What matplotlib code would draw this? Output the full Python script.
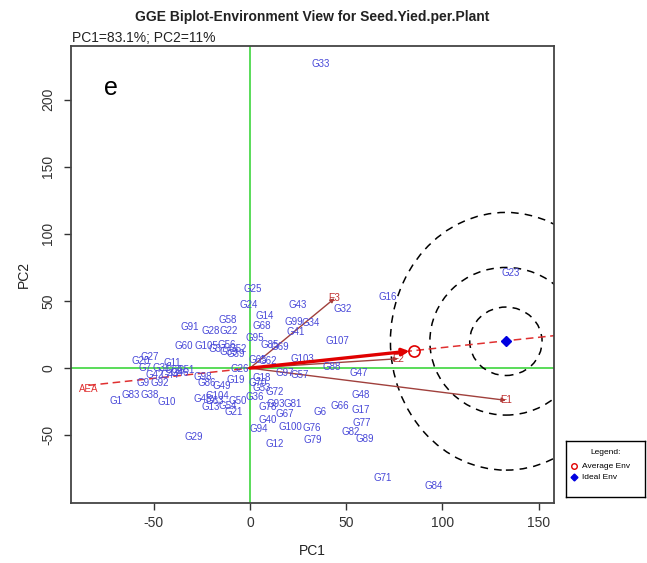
import matplotlib
matplotlib.use("Agg")
import matplotlib.pyplot as plt
from matplotlib.patches import Ellipse
import numpy as np

plt.rcParams['font.family'] = ['Liberation Sans', 'DejaVu Sans']
plt.rcParams['axes.unicode_minus'] = False

# Genotype scores (PC1, PC2)
geno_names = [
    "G33", "G25", "G24", "G43", "G16", "G23", "G32", "G14", "G99", "G34",
    "G58", "G68", "G91", "G28", "G22", "G41", "G107", "G60", "G105", "G56",
    "G52", "G59", "G39", "G37", "G85", "G69", "G95", "G103", "G65", "G62",
    "G88", "G47", "G26", "G97", "G57", "G19", "G18", "G70", "G53", "G72",
    "G36", "G98", "G86", "G49", "G104", "G45", "G63", "G13", "G50", "G54",
    "G21", "G78", "G93", "G81", "G67", "G40", "G94", "G100", "G76", "G12",
    "G79", "G6", "G66", "G17", "G48", "G77", "G82", "G89", "G71", "G84",
    "G29", "G10", "G1", "G83", "G38", "G9", "G92", "G27", "G20", "G11",
    "G7", "G31", "G64", "G51", "G42", "G44", "G46",
]
geno_pc1 = [
    37.0, 1.6, -0.5, 25.0, 71.4, 135.4, 48.4, 7.8, 22.9, 31.3,
    -11.5, 6.3, -31.3, -20.3, -10.9, 24.0, 45.3, -34.4, -22.4, -12.0,
    -6.3, -10.9, -7.3, -16.7, 10.4, 15.6, 2.6, 27.1, 4.2, 9.4,
    42.7, 56.3, -5.2, 18.2, 26.0, -7.3, 6.3, 4.2, 6.3, 13.0,
    2.6, -24.5, -22.4, -14.6, -16.7, -24.5, -18.2, -20.3, -6.3, -11.5,
    -8.3, 9.4, 13.5, 22.4, 18.2, 9.4, 4.7, 20.8, 32.3, 13.0,
    32.8, 36.5, 46.9, 57.8, 57.3, 58.3, 52.1, 59.9, 68.8, 95.3,
    -29.2, -43.2, -69.8, -62.0, -52.1, -55.7, -46.9, -52.1, -56.8, -40.6,
    -54.7, -45.8, -39.6, -33.3, -49.5, -41.7, -36.5,
]
geno_pc2 = [
    226.9, 59.0, 47.0, 47.0, 53.0, 70.9, 44.0, 38.8, 34.3, 33.6,
    35.8, 31.3, 30.6, 27.6, 27.6, 26.9, 20.1, 16.4, 16.4, 17.2,
    14.2, 11.9, 10.4, 14.2, 17.2, 15.7, 22.4, 6.7, 6.0, 5.2,
    0.7, -3.7, -0.7, -3.7, -5.2, -9.0, -7.5, -11.2, -14.9, -17.9,
    -21.6, -6.7, -11.2, -13.4, -20.9, -23.1, -24.6, -29.1, -24.6, -28.4,
    -32.8, -29.1, -26.9, -26.9, -34.3, -38.8, -45.5, -44.0, -44.8, -56.7,
    -53.7, -32.8, -28.4, -31.3, -20.1, -41.0, -47.8, -53.0, -82.1, -88.1,
    -51.5, -25.4, -24.6, -20.1, -20.1, -11.2, -11.2, 8.2, 5.2, 3.7,
    0.0, 0.0, -1.5, -1.5, -5.2, -5.2, -3.7,
]

# Environment vectors
env_names = ["E1", "E2", "E3"]
env_pc1 = [133.0, 77.0, 44.0]
env_pc2 = [-24.0, 7.0, 52.0]

# Average and ideal environment
avg_env = (85.0, 13.0)
ideal_env = (133.0, 20.0)
# concentric rings around the ideal environment (half-widths, half-heights)
ring_rx = [18.8, 39.5, 60.0]
ring_ry = [25.5, 55.0, 96.0]

xlim = (-93, 158)
ylim = (-100.5, 240)
xticks = [-50, 0, 50, 100, 150]
yticks = [-50, 0, 50, 100, 150, 200]

W, H = 647, 563
fig = plt.figure(figsize=(W / 100, H / 100), dpi=100)
ax = fig.add_axes([71 / W, 1 - 503 / H, (554 - 71) / W, (503 - 46) / H])
ax.set_xlim(*xlim)
ax.set_ylim(*ylim)

green = '#4CD94C'
ax.axhline(0, color=green, lw=1.3, zorder=1)
ax.axvline(0, color=green, lw=1.3, zorder=1)

for rx, ry in zip(ring_rx, ring_ry):
    ax.add_patch(Ellipse(ideal_env, 2 * rx, 2 * ry, fill=False,
                         ls=(0, (5, 4)), lw=1.1, ec='black', zorder=2))

# average environment axis
slope = avg_env[1] / avg_env[0]
xa = np.array([-84.0, xlim[1]])
ax.plot(xa, slope * xa, color='#E03030', ls=(0, (5, 3)), lw=1.1, zorder=2)
ax.text(-84, slope * -84 - 3, "AEA", color='#E03030', fontsize=7,
        ha='center', va='center')

# environment vectors
for n, x, y in zip(env_names, env_pc1, env_pc2):
    ax.annotate("", xy=(x, y), xytext=(0, 0),
                arrowprops=dict(arrowstyle='-|>', color='#A0403C', lw=1.0,
                                mutation_scale=6, shrinkA=0, shrinkB=0),
                zorder=3)
    ax.text(x, y, n, color='#C03030', fontsize=7, ha='center', va='center',
            zorder=4)

ax.annotate("", xy=avg_env, xytext=(0, 0),
            arrowprops=dict(arrowstyle='-|>', color='#E00000', lw=2.4,
                            mutation_scale=10, shrinkA=0, shrinkB=3),
            zorder=4)
ax.plot(*avg_env, marker='o', ms=8, mfc='none', mec='#E00000', mew=1.2, zorder=5)
ax.plot(*ideal_env, marker='D', ms=5, color='#0000E0', zorder=5)

for n, x, y in zip(geno_names, geno_pc1, geno_pc2):
    ax.text(x, y, n, color='#4848D8', fontsize=7, ha='center', va='center',
            zorder=3)

ax.text(-72, 209, "e", fontsize=18, ha='center', va='center', color='black')

ax.set_xticks(xticks)
ax.set_yticks(yticks)
ax.tick_params(direction='out', length=5, width=1.0, colors='#333333',
               labelsize=10, labelcolor='#333333')
ax.tick_params(axis='x', pad=4.5)
ax.tick_params(axis='y', pad=6.5)
for lbl in ax.get_yticklabels():
    lbl.set_rotation(90)
    lbl.set_va('center')
for s in ax.spines.values():
    s.set_color('#444444')
    s.set_linewidth(1.3)

ax.set_xlabel("PC1", fontsize=10, color='#222222', labelpad=10)
ax.set_ylabel("PC2", fontsize=10, color='#222222', labelpad=7)

fig.text(312 / W, 1 - 17 / H, "GGE Biplot-Environment View for Seed.Yied.per.Plant",
         fontsize=10, fontweight='bold', ha='center', va='center', color='#222222')
fig.text(72 / W, 1 - 38 / H, "PC1=83.1%; PC2=11%", fontsize=10,
         ha='left', va='center', color='#222222')

# legend box
lax = fig.add_axes([566 / W, 1 - 497 / H, 79 / W, 56 / H])
lax.set_xlim(0, 1)
lax.set_ylim(0, 1)
lax.set_xticks([])
lax.set_yticks([])
for s in lax.spines.values():
    s.set_color('black')
    s.set_linewidth(1.0)
lax.text(0.5, 0.8, "Legend:", fontsize=6, ha='center', va='center')
lax.plot(0.1, 0.55, marker='o', ms=4, mfc='none', mec='#E00000', mew=1.0)
lax.text(0.2, 0.55, "Average Env", fontsize=6, ha='left', va='center')
lax.plot(0.1, 0.35, marker='D', ms=3.5, color='#0000E0')
lax.text(0.2, 0.35, "Ideal Env", fontsize=6, ha='left', va='center')

fig.savefig("out.png", dpi=100, facecolor='white')
